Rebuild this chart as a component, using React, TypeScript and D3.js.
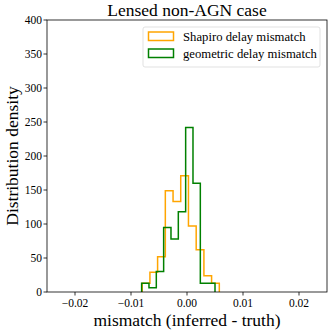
import React from "react";
import * as d3 from "d3";

// histogram bins (density)
const shapiroEdges = [-0.008, -0.00662, -0.00525, -0.00387, -0.00249, -0.00112, 0.00026, 0.00164, 0.00302, 0.00439, 0.00577];
const shapiroDensity = [12.7, 29, 52, 149, 133, 171, 97, 62, 24, 12.7];

const geometricEdges = [-0.0081, -0.00679, -0.00548, -0.00417, -0.00286, -0.00155, -0.00024, 0.00107, 0.00238, 0.00369, 0.005];
const geometricDensity = [12.7, 6.4, 30, 95, 78, 118, 242, 160, 12.7, 12.7];

const xTicks = [-0.02, -0.01, 0, 0.01, 0.02];
const yTicks = [0, 50, 100, 150, 200, 250, 300, 350, 400];

const series = [
  { name: "Shapiro delay mismatch", edges: shapiroEdges, values: shapiroDensity, color: "orange" },
  { name: "geometric delay mismatch", edges: geometricEdges, values: geometricDensity, color: "green" },
];

const W = 331;
const H = 332;
const M = { left: 47, right: 4, top: 20, bottom: 40 };
const FONT = "'Liberation Serif', 'DejaVu Serif', serif";

export default function App() {
  const x = d3.scaleLinear().domain([-0.025, 0.025]).range([M.left, W - M.right]);
  const y = d3.scaleLinear().domain([0, 400]).range([H - M.bottom, M.top]);

  const stepPath = (edges: number[], values: number[]) => {
    const pts: [number, number][] = [[edges[0], 0]];
    values.forEach((v, i) => {
      pts.push([edges[i], v]);
      pts.push([edges[i + 1], v]);
    });
    pts.push([edges[edges.length - 1], 0]);
    return d3.line<[number, number]>().x(d => x(d[0])).y(d => y(d[1]))(pts) as string;
  };

  const fmt = (t: number) => (t < 0 ? "\u2212" : "") + Math.abs(t).toFixed(2);

  const x0 = M.left, x1 = W - M.right, y0 = H - M.bottom, y1 = M.top;

  return (
    <svg width={W} height={H} style={{ position: "absolute", left: 0, top: 0 }} fontFamily={FONT}>
      <rect width={W} height={H} fill="white" />
      {series.map(s => (
        <path key={s.name} d={stepPath(s.edges, s.values)} fill="none" stroke={s.color} strokeWidth={1.5} />
      ))}
      <rect x={x0} y={y1} width={x1 - x0} height={y0 - y1} fill="none" stroke="black" strokeWidth={0.8} />
      {xTicks.map(t => (
        <g key={t}>
          <line x1={x(t)} x2={x(t)} y1={y0} y2={y0 + 3.5} stroke="black" strokeWidth={0.8} />
          <text x={x(t)} y={y0 + 15} fontSize={11.5} textAnchor="middle">{fmt(t)}</text>
        </g>
      ))}
      {yTicks.map(t => (
        <g key={t}>
          <line x1={x0 - 3.5} x2={x0} y1={y(t)} y2={y(t)} stroke="black" strokeWidth={0.8} />
          <text x={x0 - 5} y={y(t) + 4} fontSize={11.5} textAnchor="end">{t}</text>
        </g>
      ))}
      <text x={(x0 + x1) / 2} y={16} fontSize={17.5} textAnchor="middle">Lensed non-AGN case</text>
      <text x={(x0 + x1) / 2} y={326} fontSize={17.5} textAnchor="middle">mismatch (inferred - truth)</text>
      <text transform={`translate(18,${(y0 + y1) / 2}) rotate(-90)`} fontSize={17.5} textAnchor="middle">Distribution density</text>
      <g>
        <rect x={143} y={27} width={177} height={40} rx={2} fill="white" stroke="#d9d9d9" strokeWidth={0.8} />
        {series.map((s, i) => (
          <g key={s.name}>
            <rect x={148.5} y={32 + i * 17} width={25} height={8.5} fill="none" stroke={s.color} strokeWidth={1.5} />
            <text x={183} y={40.5 + i * 17} fontSize={12.7}>{s.name}</text>
          </g>
        ))}
      </g>
    </svg>
  );
}
